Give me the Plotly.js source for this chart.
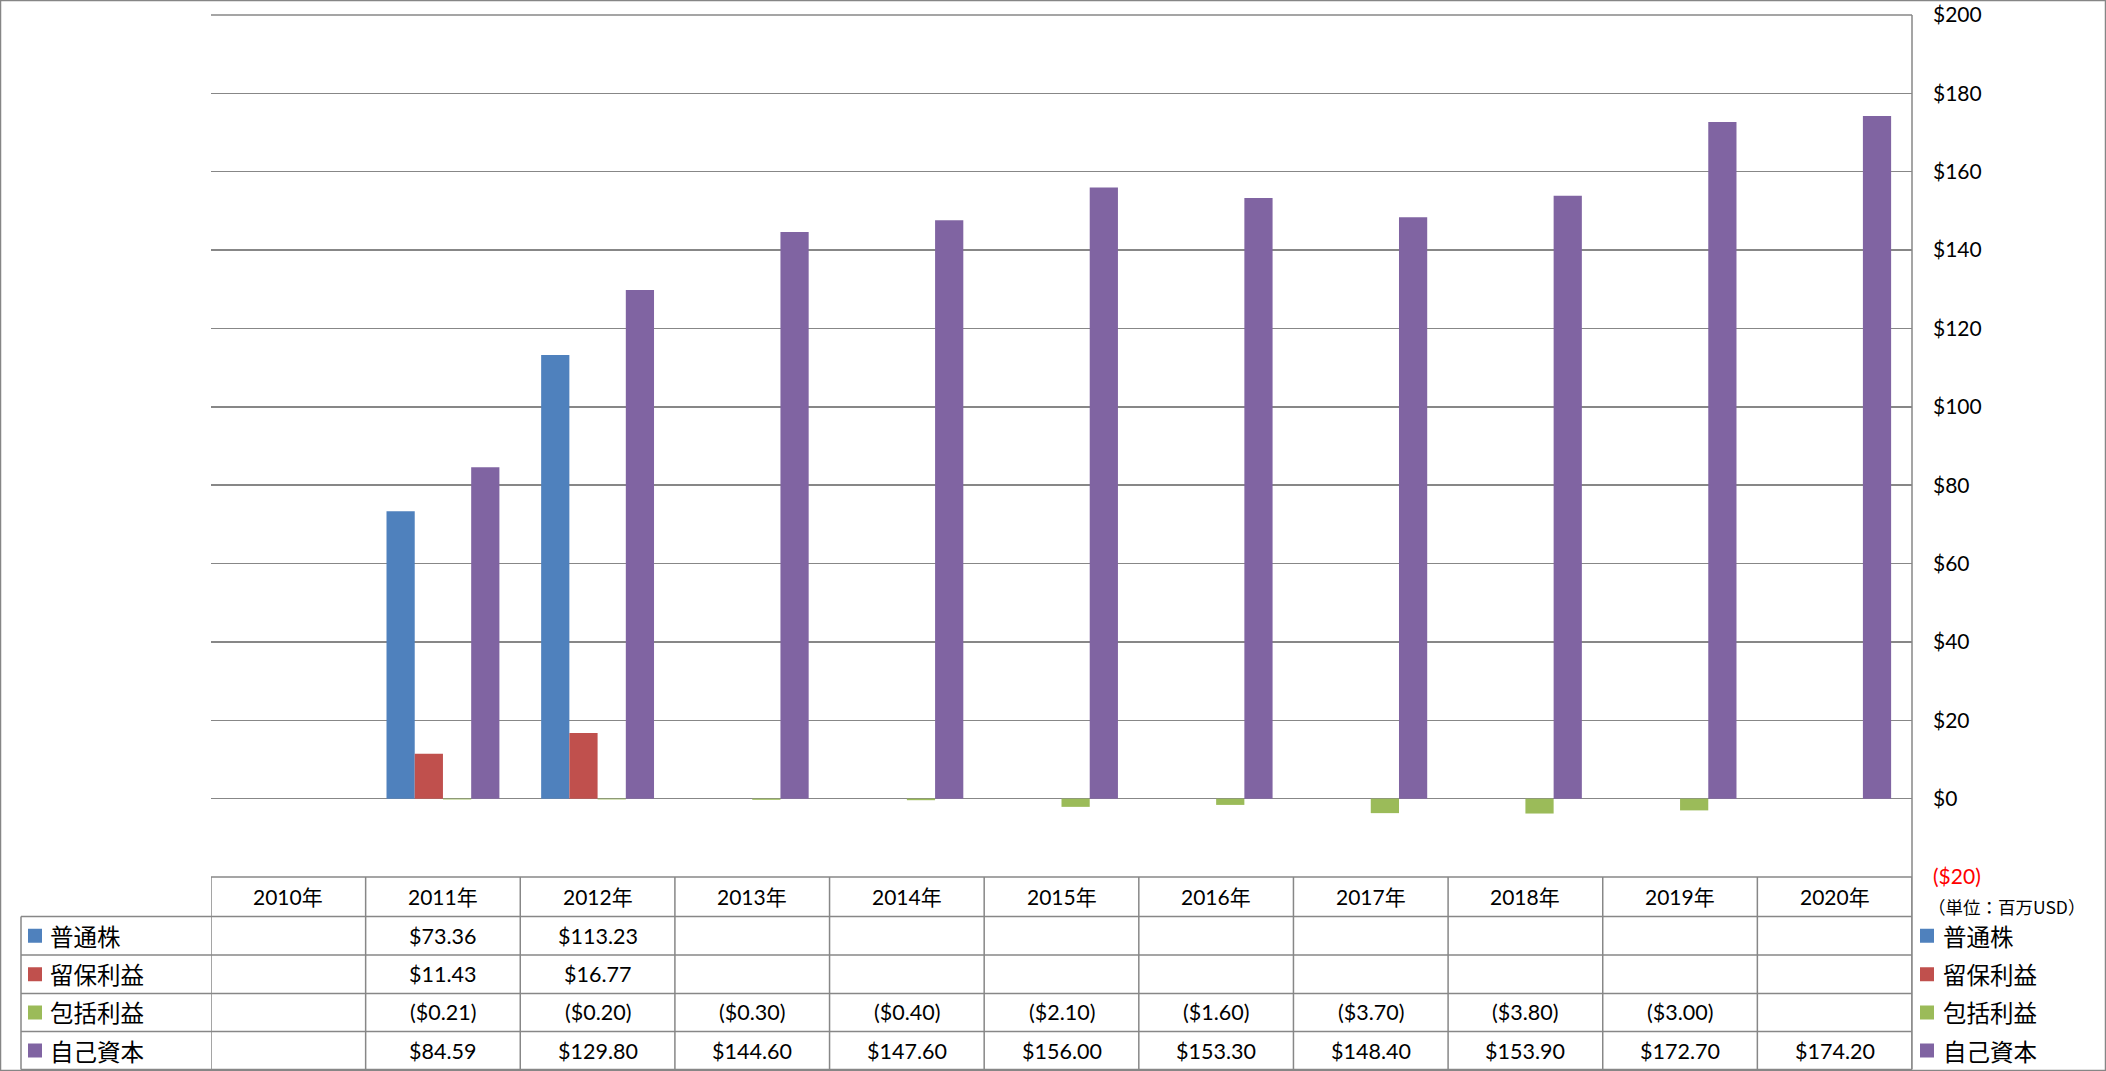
<!DOCTYPE html>
<html>
<head>
<meta charset="utf-8">
<script src="https://cdn.plot.ly/plotly-3.0.1.min.js"></script>
<style>
  html, body { margin: 0; padding: 0; background: #fff; }
  #chart { width: 2106px; height: 1071px; }
</style>
</head>
<body>
<div id="chart"></div>
<script>
// Data (単位: 百万USD)
const years = ['2010年', '2011年', '2012年', '2013年', '2014年', '2015年', '2016年', '2017年', '2018年', '2019年', '2020年'];
const commonStock = [null, 73.36, 113.23, null, null, null, null, null, null, null, null];
const retainedEarnings = [null, 11.43, 16.77, null, null, null, null, null, null, null, null];
const comprehensiveIncome = [null, -0.21, -0.20, -0.30, -0.40, -2.10, -1.60, -3.70, -3.80, -3.00, null];
const equity = [null, 84.59, 129.80, 144.60, 147.60, 156.00, 153.30, 148.40, 153.90, 172.70, 174.20];
const seriesNames = ['普通株', '留保利益', '包括利益', '自己資本'];
const yTicks = [-20, 0, 20, 40, 60, 80, 100, 120, 140, 160, 180, 200];

const colors = ['#4F81BD', '#C0504D', '#9BBB59', '#8064A2'];
const seriesValues = [commonStock, retainedEarnings, comprehensiveIncome, equity];

// Plot area geometry (pixels)
const W = 2106, H = 1071;
const L = 211, R = 1912, T = 15, B = 877;
const PW = R - L, PH = B - T;
const px2x = px => (px - L) / PW;
const py2y = py => (B - py) / PH;

const gridColor = '#878787';
const numFont = 'Lato, "Noto Sans CJK JP", sans-serif';
const jpFont = '"Noto Sans CJK JP", sans-serif';

// table rows: header + 4 series
const rowEdges = [877, 916.5, 955, 993.5, 1031.5, 1069.5];

function fmt(v) {
    if (v === null || v === undefined) return '';
    if (v < 0) return '($' + Math.abs(v).toFixed(2) + ')';
    return '$' + v.toFixed(2);
}

function money(v) {
    return v < 0 ? '($' + Math.abs(v) + ')' : '$' + v;
}

const traces = seriesValues.map((vals, i) => ({
    type: 'bar',
    x: years,
    y: vals,
    name: seriesNames[i],
    marker: { color: colors[i] },
    hoverinfo: 'x+y+name'
}));

const shapes = [];
const annotations = [];

// outer border of the chart
shapes.push({
    type: 'rect', xref: 'paper', yref: 'paper',
    x0: px2x(0.5), x1: px2x(W - 0.5), y0: py2y(0.5), y1: py2y(H - 0.5),
    line: { color: '#868686', width: 1.5 }
});

// top gridline ($200)
shapes.push({
    type: 'line', xref: 'paper', yref: 'paper',
    x0: 0, x1: 1, y0: 1, y1: 1,
    line: { color: gridColor, width: 1.5 }
});

// right axis line, runs through the table too
shapes.push({
    type: 'line', xref: 'paper', yref: 'paper',
    x0: 1, x1: 1, y0: 1, y1: py2y(rowEdges[5]),
    line: { color: gridColor, width: 1.5 }
});

// horizontal table lines
rowEdges.forEach((py, k) => {
    shapes.push({
        type: 'line', xref: 'paper', yref: 'paper',
        x0: k === 0 ? 0 : px2x(21), x1: 1, y0: py2y(py), y1: py2y(py),
        line: { color: gridColor, width: 1.5 }
    });
});

// vertical table lines at category boundaries
for (let i = 0; i <= years.length; i++) {
    shapes.push({
        type: 'line', xref: 'x', yref: 'paper',
        x0: i - 0.5, x1: i - 0.5, y0: py2y(rowEdges[0]), y1: py2y(rowEdges[5]),
        line: { color: gridColor, width: 1.5 }
    });
}
// left edge of the series name column
shapes.push({
    type: 'line', xref: 'paper', yref: 'paper',
    x0: px2x(21), x1: px2x(21), y0: py2y(rowEdges[1]), y1: py2y(rowEdges[5]),
    line: { color: gridColor, width: 1.5 }
});

// header row: years
years.forEach(yr => {
    annotations.push({
        xref: 'x', yref: 'paper', x: yr, y: py2y((rowEdges[0] + rowEdges[1]) / 2),
        text: yr, showarrow: false, xanchor: 'center', yanchor: 'middle',
        font: { family: numFont, size: 21, color: '#000' }
    });
});

// series rows
seriesValues.forEach((vals, s) => {
    const cy = (rowEdges[s + 1] + rowEdges[s + 2]) / 2;
    vals.forEach((v, i) => {
        if (v === null) return;
        annotations.push({
            xref: 'x', yref: 'paper', x: years[i], y: py2y(cy),
            text: fmt(v), showarrow: false, xanchor: 'center', yanchor: 'middle',
            font: { family: numFont, size: 21.5, color: '#000' }
        });
    });
    // legend keys inside the table (left)
    shapes.push({
        type: 'rect', xref: 'paper', yref: 'paper',
        x0: px2x(28), x1: px2x(42), y0: py2y(cy - 7), y1: py2y(cy + 7),
        fillcolor: colors[s], line: { width: 0 }
    });
    annotations.push({
        xref: 'paper', yref: 'paper', x: px2x(48), y: py2y(cy),
        text: seriesNames[s], showarrow: false, xanchor: 'left', yanchor: 'middle',
        font: { family: jpFont, size: 23.5, color: '#000' }
    });
    // legend keys on the right
    shapes.push({
        type: 'rect', xref: 'paper', yref: 'paper',
        x0: px2x(1920), x1: px2x(1934), y0: py2y(cy - 7), y1: py2y(cy + 7),
        fillcolor: colors[s], line: { width: 0 }
    });
    annotations.push({
        xref: 'paper', yref: 'paper', x: px2x(1941), y: py2y(cy),
        text: seriesNames[s], showarrow: false, xanchor: 'left', yanchor: 'middle',
        font: { family: jpFont, size: 23.5, color: '#000' }
    });
});

// unit note
annotations.push({
    xref: 'paper', yref: 'paper', x: px2x(1926), y: py2y(906),
    text: '（単位：百万USD）', showarrow: false, xanchor: 'left', yanchor: 'middle',
    font: { family: jpFont, size: 17.5, color: '#000' }
});

const layout = {
    width: W,
    height: H,
    margin: { l: L, r: W - R, t: T, b: H - B },
    paper_bgcolor: '#fff',
    plot_bgcolor: '#fff',
    showlegend: false,
    barmode: 'group',
    bargap: 0.27,
    bargroupgap: 0,
    xaxis: {
        type: 'category',
        range: [-0.5, years.length - 0.5],
        showticklabels: false,
        showgrid: false,
        zeroline: false,
        showline: false,
        fixedrange: true
    },
    yaxis: {
        side: 'right',
        range: [-20, 200],
        tickvals: yTicks,
        ticktext: yTicks.map(v => v < 0 ? '<span style="color:#FF0000">' + money(v) + '</span>' : money(v)),
        ticks: '',
        ticklabelstandoff: 20,
        tickfont: { family: numFont, size: 21, color: '#000' },
        showgrid: true,
        gridcolor: gridColor,
        gridwidth: 1.5,
        zeroline: false,
        showline: false,
        fixedrange: true
    },
    shapes: shapes,
    annotations: annotations
};

Plotly.newPlot('chart', traces, layout, { displayModeBar: false, staticPlot: true });
</script>
</body>
</html>
